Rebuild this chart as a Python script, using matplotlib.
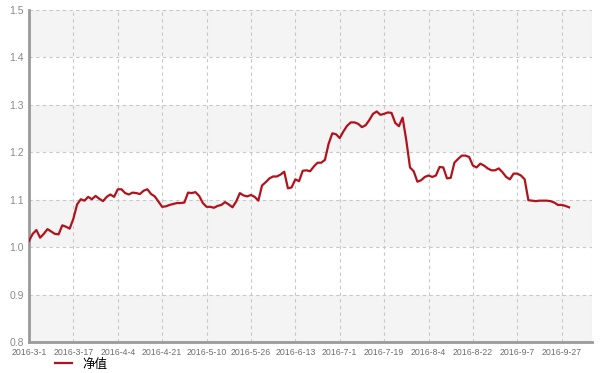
import matplotlib
matplotlib.use("Agg")
import matplotlib.pyplot as plt

nav_values = [
    1.013, 1.028, 1.036, 1.020, 1.028, 1.038, 1.033, 1.028, 1.027, 1.046,
    1.043, 1.039, 1.060, 1.090, 1.101, 1.098, 1.106, 1.101, 1.108, 1.102,
    1.097, 1.106, 1.111, 1.106, 1.122, 1.122, 1.114, 1.111, 1.115, 1.114,
    1.112, 1.119, 1.122, 1.112, 1.107, 1.096, 1.085, 1.086, 1.089, 1.091,
    1.093, 1.093, 1.094, 1.115, 1.114, 1.116, 1.108, 1.093, 1.085, 1.085,
    1.083, 1.087, 1.089, 1.095, 1.090, 1.084, 1.096, 1.114, 1.109, 1.107,
    1.110, 1.106, 1.098, 1.130, 1.137, 1.145, 1.149, 1.149, 1.153, 1.159,
    1.124, 1.126, 1.143, 1.139, 1.161, 1.162, 1.160, 1.170, 1.178, 1.178,
    1.184, 1.218, 1.240, 1.238, 1.230, 1.244, 1.256, 1.263, 1.263, 1.260,
    1.253, 1.257, 1.268, 1.281, 1.286, 1.279, 1.281, 1.284, 1.283, 1.262,
    1.255, 1.273, 1.225, 1.168, 1.160, 1.138, 1.141, 1.148, 1.151, 1.148,
    1.151, 1.169, 1.168, 1.145, 1.146, 1.178, 1.186, 1.193, 1.193, 1.190,
    1.172, 1.168, 1.176, 1.172, 1.166, 1.162, 1.162, 1.166, 1.158, 1.148,
    1.143, 1.155, 1.155, 1.151, 1.143, 1.099, 1.098, 1.097, 1.098, 1.098,
    1.098, 1.097, 1.094, 1.089, 1.089, 1.087, 1.084,
]
tick_labels = ["2016-3-1", "2016-3-17", "2016-4-4", "2016-4-21", "2016-5-10",
               "2016-5-26", "2016-6-13", "2016-7-1", "2016-7-19", "2016-8-4",
               "2016-8-22", "2016-9-7", "2016-9-27"]
tick_step = 12
y_ticks = [0.8, 0.9, 1.0, 1.1, 1.2, 1.3, 1.4, 1.5]
series_name = "净值"

fig = plt.figure(figsize=(6, 3.73), dpi=100)
ax = fig.add_axes([29/600, 1-342/373, (592-29)/600, (342-10)/373])

x = list(range(len(nav_values)))
xmax = 152.2
ax.set_xlim(0, xmax)
ax.set_ylim(0.8, 1.5)

# alternating bands
for i in range(len(y_ticks) - 1):
    if i % 2 == 0:
        ax.axhspan(y_ticks[i], y_ticks[i+1], color="#f4f4f4", zorder=0, lw=0)

grid_c = "#c8c8c8"
for yv in y_ticks[1:]:
    ax.axhline(yv, color=grid_c, lw=0.8, ls=(0, (3, 3)), zorder=1)
tick_pos = [i * tick_step for i in range(len(tick_labels))]
for xv in tick_pos[1:]:
    ax.axvline(xv, color=grid_c, lw=0.8, ls=(0, (3, 3)), zorder=1)
ax.axvline(xmax, color=grid_c, lw=0.8, ls=(0, (3, 3)), zorder=1)

line, = ax.plot(x, nav_values, color="#b3121c", lw=1.6, zorder=3, label=series_name)

for s in ["top", "right"]:
    ax.spines[s].set_visible(False)
ax.spines["left"].set_color("#9a9a9a")
ax.spines["left"].set_linewidth(2)
ax.spines["bottom"].set_color("#9a9a9a")
ax.spines["bottom"].set_linewidth(2)

ax.set_xticks(tick_pos)
ax.set_xticklabels(tick_labels)
ax.set_yticks(y_ticks)
ax.set_yticklabels([f"{v:.1f}" for v in y_ticks])
ax.tick_params(axis="both", length=0)
ax.tick_params(axis="x", labelsize=6.3, pad=4, colors="#6e6e6e")
ax.tick_params(axis="y", labelsize=7.5, pad=3.5, colors="#8a8a8a")
for lab in ax.get_xticklabels() + ax.get_yticklabels():
    lab.set_family(["Liberation Sans", "DejaVu Sans"])

fig.legend(handles=[line], labels=[series_name], loc="center left",
           bbox_to_anchor=(44/600, 1-364/373), frameon=False,
           handlelength=1.3, handletextpad=0.9,
           prop={"family": ["Noto Sans CJK SC", "DejaVu Sans"], "size": 9})

fig.savefig("out.png", dpi=100)
